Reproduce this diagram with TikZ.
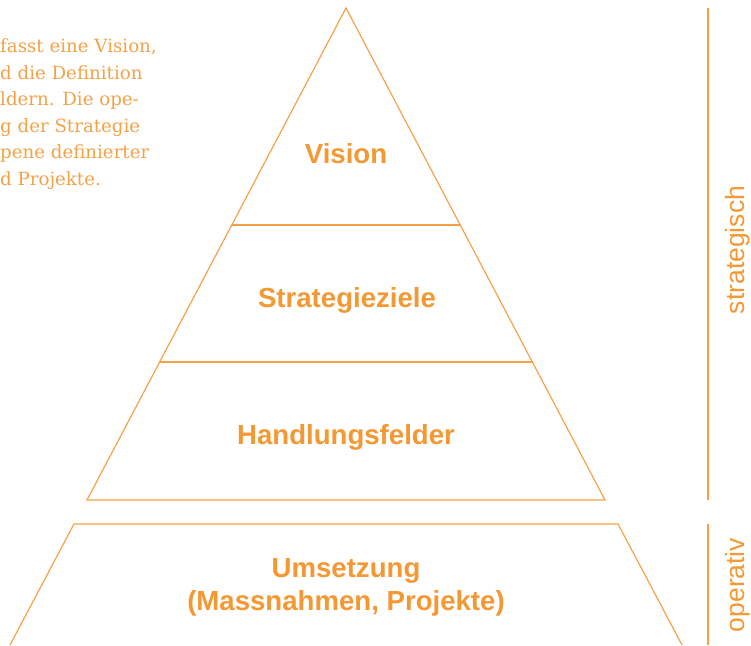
\documentclass[tikz,border=0pt]{standalone}
\usepackage{fontspec}
\setsansfont{Liberation Sans}
\setmainfont{DejaVu Serif}
\usepackage{tikz}
\usetikzlibrary{positioning}
\definecolor{pyrtext}{HTML}{F39833}
\definecolor{pyrline}{HTML}{F6A148}
\tikzstyle{layer}=[draw=pyrline, line width=1.2pt, line join=miter]
\tikzstyle{bar}=[draw=pyrline, line width=1.2pt]
\tikzstyle{lbl}=[text=pyrtext, inner sep=0pt, anchor=base, font=\sffamily\bfseries\fontsize{27.6}{33}\selectfont]
\tikzstyle{side}=[text=pyrtext, inner sep=0pt, anchor=base, rotate=90, font=\sffamily\fontsize{26.5}{30}\selectfont]
\tikzstyle{para}=[text=pyrtext!90, inner sep=0pt, anchor=base west, font=\rmfamily\fontsize{18.2}{26}\selectfont]

\begin{document}
\begin{tikzpicture}[x=1pt, y=-1pt]
	\useasboundingbox (0,0) rectangle (751,645);
	% pyramid corners
	\coordinate (apex) at (346,8);
	\coordinate (v1l) at (232,225);
	\coordinate (v1r) at (460,225);
	\coordinate (v2l) at (160,362);
	\coordinate (v2r) at (532,362);
	\coordinate (bl) at (87,500);
	\coordinate (br) at (605,500);
	% base trapezoid
	\coordinate (tl) at (74,524);
	\coordinate (tr) at (618,524);
	\coordinate (ul) at (10,645);
	\coordinate (ur) at (682,645);
	\draw[layer] (bl) -- (apex) -- (br) -- cycle;
	\draw[layer] (v1l) -- (v1r);
	\draw[layer] (v2l) -- (v2r);
	\draw[layer] (ul) -- (tl) -- (tr) -- (ur);
	% layer labels
	\node[lbl] (vision) at (346,163) {Vision};
	\node[lbl] (ziele) at (347,307) {Strategieziele};
	\node[lbl] (felder) at (346,444) {Handlungsfelder};
	\node[lbl] (umsetzung) at (346,577) {Umsetzung};
	\node[lbl] (massn) at (346,610) {(Massnahmen, Projekte)};
	% side bars
	\coordinate (s1) at (708,8);
	\coordinate (s2) at (708,500);
	\coordinate (o1) at (708,524);
	\coordinate (o2) at (708,645);
	\draw[bar] (s1) -- (s2);
	\draw[bar] (o1) -- (o2);
	\node[side] (strat) at (744,250) {strategisch};
	\node[side] (oper) at (744,585) {operativ};
	% cut-off text on the left
	\foreach \txt [count=\i from 0] in {fasst eine Vision{,}, d die Definition, ldern. Die ope-, g der Strategie, pene definierter, d Projekte.}
		\node[para] (line\i) at (0,52.7+26.46*\i) {\txt};
\end{tikzpicture}
\end{document}
